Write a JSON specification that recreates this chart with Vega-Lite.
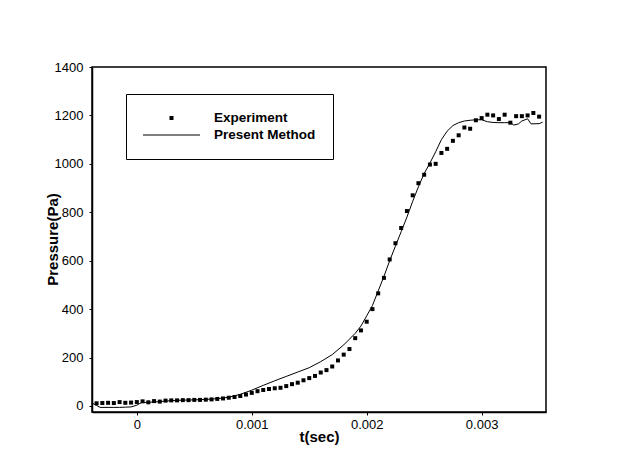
{
  "$schema": "https://vega.github.io/schema/vega-lite/v6.json",
  "width": 454,
  "height": 345,
  "autosize": "none",
  "padding": {"left": 92, "top": 67, "right": 76, "bottom": 48},
  "background": "white",
  "config": {
    "font": "Liberation Sans",
    "view": {"stroke": "black", "strokeWidth": 1.5},
    "axis": {
      "grid": false,
      "domainColor": "black",
      "domainWidth": 1.5,
      "tickColor": "black",
      "tickSize": 3,
      "labelColor": "black",
      "labelFont": "Liberation Sans",
      "labelFontSize": 13,
      "titleColor": "black",
      "titleFont": "Liberation Sans",
      "titleFontSize": 15,
      "titleFontWeight": "bold"
    }
  },
  "layer": [
    {
      "data": {
        "values": [
          {"t": -0.00039, "p": 12},
          {"t": -0.00035, "p": 2},
          {"t": -0.00032, "p": -6},
          {"t": -0.00025, "p": -6},
          {"t": -0.00020, "p": -6},
          {"t": -0.00015, "p": -6},
          {"t": -0.00010, "p": -5},
          {"t": -0.00005, "p": -4},
          {"t": 0.00000, "p": 3},
          {"t": 0.00004, "p": 14},
          {"t": 0.00010, "p": 15},
          {"t": 0.00020, "p": 18},
          {"t": 0.00030, "p": 22},
          {"t": 0.00040, "p": 24},
          {"t": 0.00050, "p": 25},
          {"t": 0.00060, "p": 27},
          {"t": 0.00070, "p": 30},
          {"t": 0.00080, "p": 36},
          {"t": 0.00090, "p": 48},
          {"t": 0.00100, "p": 65},
          {"t": 0.00110, "p": 85},
          {"t": 0.00120, "p": 104},
          {"t": 0.00130, "p": 122},
          {"t": 0.00140, "p": 140},
          {"t": 0.00150, "p": 158},
          {"t": 0.00160, "p": 183},
          {"t": 0.00170, "p": 212},
          {"t": 0.00180, "p": 252},
          {"t": 0.00190, "p": 300},
          {"t": 0.00195, "p": 330},
          {"t": 0.00200, "p": 372},
          {"t": 0.00205, "p": 415},
          {"t": 0.00210, "p": 475},
          {"t": 0.00215, "p": 535},
          {"t": 0.00220, "p": 600},
          {"t": 0.00225, "p": 660},
          {"t": 0.00230, "p": 720},
          {"t": 0.00235, "p": 780},
          {"t": 0.00240, "p": 845},
          {"t": 0.00245, "p": 905},
          {"t": 0.00250, "p": 960},
          {"t": 0.00255, "p": 1003},
          {"t": 0.00260, "p": 1050},
          {"t": 0.00265, "p": 1100},
          {"t": 0.00270, "p": 1135},
          {"t": 0.00275, "p": 1158},
          {"t": 0.00280, "p": 1170},
          {"t": 0.00285, "p": 1177},
          {"t": 0.00290, "p": 1180},
          {"t": 0.00295, "p": 1182},
          {"t": 0.00300, "p": 1182},
          {"t": 0.00305, "p": 1174},
          {"t": 0.00310, "p": 1171},
          {"t": 0.00315, "p": 1170},
          {"t": 0.00320, "p": 1170},
          {"t": 0.00325, "p": 1170},
          {"t": 0.00328, "p": 1160},
          {"t": 0.00332, "p": 1165},
          {"t": 0.00335, "p": 1177},
          {"t": 0.00340, "p": 1186},
          {"t": 0.00343, "p": 1165},
          {"t": 0.00350, "p": 1166},
          {"t": 0.00353, "p": 1172}
        ]
      },
      "mark": {"type": "line", "color": "black", "strokeWidth": 1},
      "encoding": {
        "x": {
          "field": "t",
          "type": "quantitative",
          "scale": {"domain": [-0.00039, 0.00356], "nice": false, "zero": false},
          "axis": {
            "title": "t(sec)",
            "values": [0, 0.001, 0.002, 0.003],
            "format": ".3~f",
            "labelPadding": 3,
            "titleY": 24,
            "titleBaseline": "middle"
          }
        },
        "y": {
          "field": "p",
          "type": "quantitative",
          "scale": {"domain": [-25, 1400], "nice": false, "zero": false},
          "axis": {
            "title": "Pressure(Pa)",
            "values": [0, 200, 400, 600, 800, 1000, 1200, 1400],
            "format": "d",
            "labelPadding": 6,
            "titleX": -40,
            "titleY": 172,
            "titleAngle": 270,
            "titleAlign": "center",
            "titleBaseline": "middle"
          }
        }
      }
    },
    {
      "data": {
        "values": [
          {"t": -0.00035, "p": 11, "s": "Experiment"},
          {"t": -0.00030, "p": 12, "s": "Experiment"},
          {"t": -0.00025, "p": 13, "s": "Experiment"},
          {"t": -0.00020, "p": 12, "s": "Experiment"},
          {"t": -0.00015, "p": 16, "s": "Experiment"},
          {"t": -0.00010, "p": 13, "s": "Experiment"},
          {"t": -0.00005, "p": 14, "s": "Experiment"},
          {"t": 0.00000, "p": 16, "s": "Experiment"},
          {"t": 0.00005, "p": 19, "s": "Experiment"},
          {"t": 0.00010, "p": 15, "s": "Experiment"},
          {"t": 0.00015, "p": 20, "s": "Experiment"},
          {"t": 0.00020, "p": 18, "s": "Experiment"},
          {"t": 0.00025, "p": 22, "s": "Experiment"},
          {"t": 0.00030, "p": 23, "s": "Experiment"},
          {"t": 0.00035, "p": 23, "s": "Experiment"},
          {"t": 0.00040, "p": 24, "s": "Experiment"},
          {"t": 0.00045, "p": 24, "s": "Experiment"},
          {"t": 0.00050, "p": 25, "s": "Experiment"},
          {"t": 0.00055, "p": 25, "s": "Experiment"},
          {"t": 0.00060, "p": 26, "s": "Experiment"},
          {"t": 0.00065, "p": 27, "s": "Experiment"},
          {"t": 0.00070, "p": 29, "s": "Experiment"},
          {"t": 0.00075, "p": 31, "s": "Experiment"},
          {"t": 0.00080, "p": 34, "s": "Experiment"},
          {"t": 0.00085, "p": 37, "s": "Experiment"},
          {"t": 0.00090, "p": 41, "s": "Experiment"},
          {"t": 0.00095, "p": 47, "s": "Experiment"},
          {"t": 0.00100, "p": 54, "s": "Experiment"},
          {"t": 0.00105, "p": 61, "s": "Experiment"},
          {"t": 0.00110, "p": 66, "s": "Experiment"},
          {"t": 0.00115, "p": 70, "s": "Experiment"},
          {"t": 0.00120, "p": 73, "s": "Experiment"},
          {"t": 0.00125, "p": 75, "s": "Experiment"},
          {"t": 0.00130, "p": 82, "s": "Experiment"},
          {"t": 0.00135, "p": 90, "s": "Experiment"},
          {"t": 0.00140, "p": 96, "s": "Experiment"},
          {"t": 0.00145, "p": 106, "s": "Experiment"},
          {"t": 0.00150, "p": 115, "s": "Experiment"},
          {"t": 0.00155, "p": 124, "s": "Experiment"},
          {"t": 0.00160, "p": 138, "s": "Experiment"},
          {"t": 0.00165, "p": 148, "s": "Experiment"},
          {"t": 0.00170, "p": 163, "s": "Experiment"},
          {"t": 0.00175, "p": 188, "s": "Experiment"},
          {"t": 0.00180, "p": 212, "s": "Experiment"},
          {"t": 0.00185, "p": 235, "s": "Experiment"},
          {"t": 0.00190, "p": 280, "s": "Experiment"},
          {"t": 0.00195, "p": 312, "s": "Experiment"},
          {"t": 0.00200, "p": 348, "s": "Experiment"},
          {"t": 0.00205, "p": 400, "s": "Experiment"},
          {"t": 0.00210, "p": 465, "s": "Experiment"},
          {"t": 0.00215, "p": 529, "s": "Experiment"},
          {"t": 0.00220, "p": 605, "s": "Experiment"},
          {"t": 0.00225, "p": 672, "s": "Experiment"},
          {"t": 0.00230, "p": 735, "s": "Experiment"},
          {"t": 0.00235, "p": 805, "s": "Experiment"},
          {"t": 0.00240, "p": 870, "s": "Experiment"},
          {"t": 0.00245, "p": 920, "s": "Experiment"},
          {"t": 0.00250, "p": 955, "s": "Experiment"},
          {"t": 0.00255, "p": 997, "s": "Experiment"},
          {"t": 0.00260, "p": 1000, "s": "Experiment"},
          {"t": 0.00265, "p": 1045, "s": "Experiment"},
          {"t": 0.00270, "p": 1062, "s": "Experiment"},
          {"t": 0.00275, "p": 1095, "s": "Experiment"},
          {"t": 0.00280, "p": 1118, "s": "Experiment"},
          {"t": 0.00285, "p": 1150, "s": "Experiment"},
          {"t": 0.00290, "p": 1145, "s": "Experiment"},
          {"t": 0.00295, "p": 1180, "s": "Experiment"},
          {"t": 0.00300, "p": 1189, "s": "Experiment"},
          {"t": 0.00305, "p": 1203, "s": "Experiment"},
          {"t": 0.00310, "p": 1200, "s": "Experiment"},
          {"t": 0.00315, "p": 1185, "s": "Experiment"},
          {"t": 0.00320, "p": 1203, "s": "Experiment"},
          {"t": 0.00325, "p": 1170, "s": "Experiment"},
          {"t": 0.00330, "p": 1197, "s": "Experiment"},
          {"t": 0.00335, "p": 1197, "s": "Experiment"},
          {"t": 0.00340, "p": 1200, "s": "Experiment"},
          {"t": 0.00345, "p": 1210, "s": "Experiment"},
          {"t": 0.00350, "p": 1195, "s": "Experiment"}
        ]
      },
      "mark": {"type": "point", "filled": true, "color": "black", "size": 3249, "opacity": 1},
      "encoding": {
        "x": {"field": "t", "type": "quantitative"},
        "y": {"field": "p", "type": "quantitative"},
        "shape": {
          "field": "s",
          "type": "nominal",
          "scale": {
            "domain": ["Experiment", "Present Method"],
            "range": ["M-0.07,-0.07H0.07V0.07H-0.07Z", "M-1,-0.02H1V0.02H-1Z"]
          },
          "legend": {
            "title": null,
            "orient": "none",
            "legendX": 34,
            "legendY": 27,
            "strokeColor": "black",
            "padding": 17,
            "clipHeight": 14,
            "symbolSize": 3249,
            "symbolFillColor": "black",
            "symbolStrokeColor": "black",
            "symbolStrokeWidth": 0,
            "symbolOpacity": 1,
            "labelFont": "Liberation Sans",
            "labelFontSize": 13.5,
            "labelFontWeight": "bold",
            "labelColor": "black",
            "labelOffset": 14,
            "rowPadding": 3,
            "encode": {
              "symbols": {
                "update": {
                  "fill": {"value": "black"},
                  "fillOpacity": {"value": 1},
                  "opacity": {"value": 1}
                }
              }
            }
          }
        }
      }
    }
  ]
}
